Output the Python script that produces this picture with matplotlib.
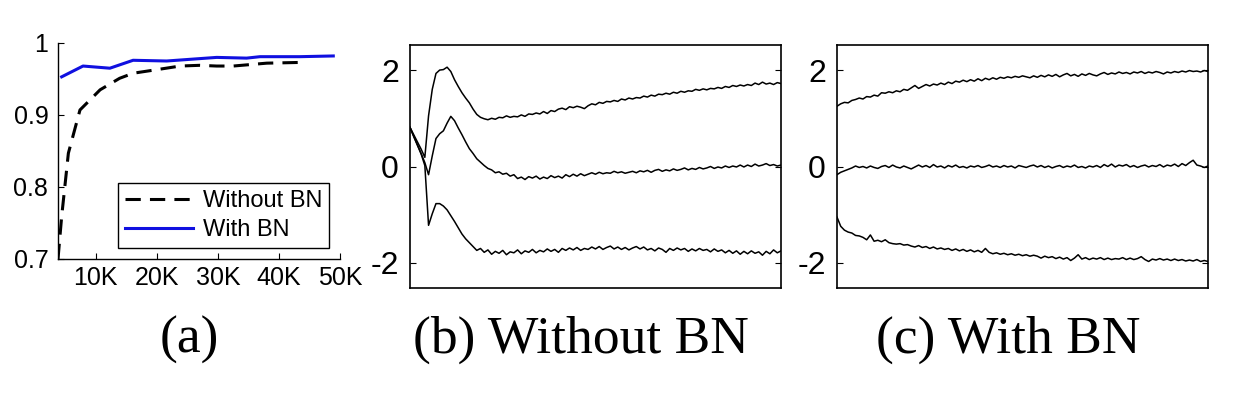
import matplotlib
matplotlib.use("Agg")
import matplotlib.pyplot as plt
import numpy as np

plt.rcParams["font.family"] = ["Liberation Sans", "DejaVu Sans"]

# (a) test accuracy vs training steps (K)
acc_x_without = [3.8, 4.4, 5.5, 7.4, 10.7, 13.9, 16.1, 20.0, 23.8, 27.0, 29.8, 32.5, 38.0, 43.4]
acc_without = [0.700, 0.759, 0.847, 0.907, 0.935, 0.951, 0.958, 0.963, 0.968, 0.969, 0.968, 0.968, 0.972, 0.973]
acc_x_with = [4.4, 7.9, 12.3, 16.1, 21.6, 29.8, 34.7, 36.9, 43.4, 48.9]
acc_with = [0.953, 0.968, 0.965, 0.976, 0.975, 0.980, 0.979, 0.981, 0.981, 0.982]
acc_yticks = [0.7, 0.8, 0.9, 1.0]
acc_yticklabels = ["0.7", "0.8", "0.9", "1"]
acc_xticks = [10, 20, 30, 40, 50]
acc_xticklabels = ["10K", "20K", "30K", "40K", "50K"]

# (b), (c) input distribution percentiles, sampled every 0.5K steps
steps = np.arange(0, 50.5, 0.5)

b_top = [
    0.81, 0.66, 0.51, 0.36, 0.19, 1.05, 1.60, 1.93, 2.00, 2.01,
    2.06, 1.97, 1.80, 1.66, 1.53, 1.42, 1.32, 1.19, 1.08, 1.02,
    0.99, 0.97, 1.00, 0.98, 1.02, 1.01, 1.05, 1.02, 1.04, 1.03,
    1.07, 1.04, 1.09, 1.08, 1.11, 1.09, 1.14, 1.10, 1.16, 1.14,
    1.19, 1.21, 1.18, 1.24, 1.22, 1.25, 1.23, 1.20, 1.26, 1.30,
    1.28, 1.33, 1.31, 1.35, 1.34, 1.37, 1.35, 1.40, 1.38, 1.42,
    1.40, 1.43, 1.42, 1.46, 1.44, 1.48, 1.46, 1.50, 1.49, 1.52,
    1.50, 1.54, 1.52, 1.56, 1.54, 1.57, 1.56, 1.60, 1.58, 1.61,
    1.59, 1.62, 1.61, 1.64, 1.62, 1.66, 1.64, 1.68, 1.66, 1.69,
    1.67, 1.70, 1.68, 1.73, 1.70, 1.75, 1.71, 1.73, 1.70, 1.74,
    1.72,
]
b_mid = [
    0.81, 0.63, 0.45, 0.27, 0.08, -0.17, 0.22, 0.58, 0.68, 0.74,
    0.90, 1.04, 0.95, 0.80, 0.66, 0.51, 0.37, 0.27, 0.16, 0.09,
    0.02, -0.04, -0.07, -0.13, -0.11, -0.16, -0.14, -0.20, -0.17, -0.25,
    -0.22, -0.27, -0.21, -0.24, -0.20, -0.26, -0.22, -0.25, -0.19, -0.23,
    -0.20, -0.24, -0.17, -0.21, -0.16, -0.20, -0.15, -0.19, -0.16, -0.13,
    -0.16, -0.12, -0.15, -0.13, -0.14, -0.10, -0.13, -0.11, -0.14, -0.12,
    -0.10, -0.13, -0.09, -0.11, -0.08, -0.12, -0.08, -0.06, -0.10, -0.07,
    -0.09, -0.05, -0.08, -0.06, -0.03, -0.07, -0.04, -0.06, -0.02, -0.05,
    -0.03, 0.00, -0.04, -0.01, -0.03, 0.01, -0.02, 0.01, -0.01, 0.03,
    -0.01, 0.03, 0.00, 0.05, 0.01, 0.03, 0.06, 0.02, 0.04, 0.01,
    0.03,
]
b_bot = [
    0.81, 0.62, 0.44, 0.26, 0.02, -1.22, -0.98, -0.77, -0.77, -0.82,
    -0.90, -1.02, -1.14, -1.27, -1.40, -1.50, -1.58, -1.66, -1.74, -1.70,
    -1.78, -1.73, -1.82, -1.76, -1.80, -1.74, -1.83, -1.77, -1.79, -1.73,
    -1.81, -1.75, -1.78, -1.72, -1.79, -1.74, -1.77, -1.71, -1.76, -1.72,
    -1.78, -1.70, -1.74, -1.69, -1.73, -1.68, -1.74, -1.70, -1.72, -1.67,
    -1.71, -1.66, -1.72, -1.68, -1.65, -1.71, -1.67, -1.72, -1.68, -1.73,
    -1.69, -1.66, -1.71, -1.67, -1.73, -1.70, -1.75, -1.69, -1.72, -1.78,
    -1.70, -1.74, -1.69, -1.73, -1.70, -1.76, -1.71, -1.75, -1.70, -1.74,
    -1.72, -1.77, -1.71, -1.76, -1.73, -1.79, -1.74, -1.80, -1.75, -1.82,
    -1.76, -1.81, -1.75, -1.80, -1.77, -1.84, -1.76, -1.81, -1.73, -1.79,
    -1.75,
]

c_top = [
    1.25, 1.30, 1.33, 1.32, 1.37, 1.39, 1.42, 1.40, 1.45, 1.44,
    1.48, 1.46, 1.53, 1.52, 1.55, 1.53, 1.57, 1.55, 1.60, 1.58,
    1.63, 1.68, 1.62, 1.66, 1.70, 1.67, 1.71, 1.69, 1.73, 1.70,
    1.75, 1.72, 1.77, 1.75, 1.79, 1.76, 1.80, 1.77, 1.82, 1.78,
    1.83, 1.80, 1.84, 1.81, 1.85, 1.83, 1.86, 1.84, 1.87, 1.85,
    1.88, 1.86, 1.84, 1.88, 1.85, 1.89, 1.86, 1.90, 1.87, 1.91,
    1.86, 1.90, 1.93, 1.88, 1.91, 1.87, 1.92, 1.89, 1.93, 1.90,
    1.88, 1.92, 1.95, 1.91, 1.94, 1.92, 1.96, 1.93, 1.95, 1.92,
    1.96, 1.94, 1.97, 1.93, 1.96, 1.94, 1.97, 1.95, 1.92, 1.96,
    1.94, 1.97, 1.95, 1.98, 1.96, 1.99, 1.97, 1.98, 1.96, 1.99,
    1.97,
]
c_mid = [
    -0.17, -0.12, -0.09, -0.06, -0.03, 0.01, -0.02, 0.00, -0.03, 0.01,
    -0.02, -0.04, 0.00, 0.02, -0.02, 0.03, -0.01, -0.03, 0.01, -0.02,
    -0.05, -0.01, 0.03, -0.01, 0.02, -0.02, 0.04, -0.01, 0.01, -0.03,
    0.02, -0.01, 0.03, -0.02, 0.00, -0.03, 0.01, -0.01, 0.02, -0.02,
    0.00, 0.03, -0.01, 0.01, -0.02, 0.02, -0.01, 0.01, -0.03, 0.02,
    0.00, -0.02, 0.01, 0.03, -0.01, 0.02, -0.02, 0.01, -0.03, 0.00,
    0.02, -0.02, 0.01, -0.01, 0.03, -0.02, 0.00, -0.03, 0.01, -0.01,
    0.02, -0.02, 0.04, 0.00, 0.05, -0.01, 0.03, 0.01, 0.04, -0.01,
    0.02, -0.02, 0.01, 0.03, -0.01, 0.02, 0.00, 0.04, -0.01, 0.03,
    0.01, 0.05, 0.00, 0.06, 0.02, 0.08, 0.13, 0.03, 0.01, -0.02,
    0.01,
]
c_bot = [
    -1.05, -1.24, -1.32, -1.36, -1.38, -1.43, -1.44, -1.47, -1.52, -1.42,
    -1.55, -1.53, -1.56, -1.52, -1.58, -1.60, -1.61, -1.60, -1.63, -1.62,
    -1.65, -1.67, -1.64, -1.68, -1.66, -1.70, -1.67, -1.71, -1.69, -1.72,
    -1.70, -1.74, -1.71, -1.75, -1.72, -1.76, -1.73, -1.77, -1.74, -1.78,
    -1.70, -1.78, -1.81, -1.79, -1.82, -1.80, -1.83, -1.81, -1.84, -1.82,
    -1.85, -1.83, -1.86, -1.84, -1.86, -1.90, -1.86, -1.89, -1.87, -1.91,
    -1.88, -1.92, -1.89, -1.95, -1.90, -1.83, -1.92, -1.89, -1.93, -1.90,
    -1.92, -1.89, -1.93, -1.90, -1.93, -1.91, -1.92, -1.89, -1.93, -1.90,
    -1.93, -1.91, -1.87, -1.93, -1.97, -1.92, -1.94, -1.91, -1.94, -1.92,
    -1.95, -1.92, -1.95, -1.93, -1.96, -1.94, -1.96, -1.93, -1.97, -1.95,
    -1.97,
]

W, H = 1238, 396
fig = plt.figure(figsize=(W / 100, H / 100), dpi=100)


def px_axes(left, top, right, bottom):
    return fig.add_axes([left / W, 1 - bottom / H, (right - left) / W, (bottom - top) / H])


# ---- (a)
ax = px_axes(58, 43, 340, 259)
ax.plot(acc_x_without, acc_without, color="black", lw=2.2, ls=(0, (5, 3)), label="Without BN")
ax.plot(acc_x_with, acc_with, color="#1010e0", lw=2.2, label="With BN")
ax.set_xlim(3.8, 50)
ax.set_ylim(0.7, 1.0)
ax.set_yticks(acc_yticks)
ax.set_yticklabels(acc_yticklabels)
ax.set_xticks(acc_xticks)
ax.set_xticklabels(acc_xticklabels)
ax.spines["top"].set_visible(False)
ax.spines["right"].set_visible(False)
for s in ("left", "bottom"):
    ax.spines[s].set_linewidth(1.0)
ax.tick_params(direction="in", length=4, width=0.8, labelsize=18)
ax.tick_params(axis="y", pad=7)
ax.tick_params(axis="x", pad=5)
leg = ax.legend(loc="lower right", fontsize=17, handlelength=2.9, labelspacing=0.3,
                borderpad=0.3, handletextpad=0.4, borderaxespad=0.45,
                fancybox=False, framealpha=1)
leg.get_frame().set_edgecolor("black")
leg.get_frame().set_linewidth(1.0)

# ---- (b) and (c)
for (left, right), curves in [((410, 781), (b_top, b_mid, b_bot)),
                              ((837, 1208), (c_top, c_mid, c_bot))]:
    ax = px_axes(left, 45, right, 288)
    for ys in curves:
        ax.plot(steps, ys, color="black", lw=1.1)
    ax.set_xlim(0, 50)
    ax.set_ylim(-2.52, 2.52)
    ax.set_xticks([])
    ax.set_yticks([-2, 0, 2])
    ax.set_yticklabels(["-2", "0", "2"])
    ax.tick_params(axis="y", direction="in", length=4, width=0.8, labelsize=23,
                   right=True, pad=8)
    for s in ax.spines.values():
        s.set_linewidth(1.2)

# ---- panel captions
for x, txt in [(189, "(a)"), (581, "(b) Without BN"), (1008, "(c) With BN")]:
    fig.text(x / W, 1 - 340 / H, txt, ha="center", va="center", fontsize=38.5,
             family=["Liberation Serif", "DejaVu Serif"])

fig.savefig("out.png", dpi=100)
